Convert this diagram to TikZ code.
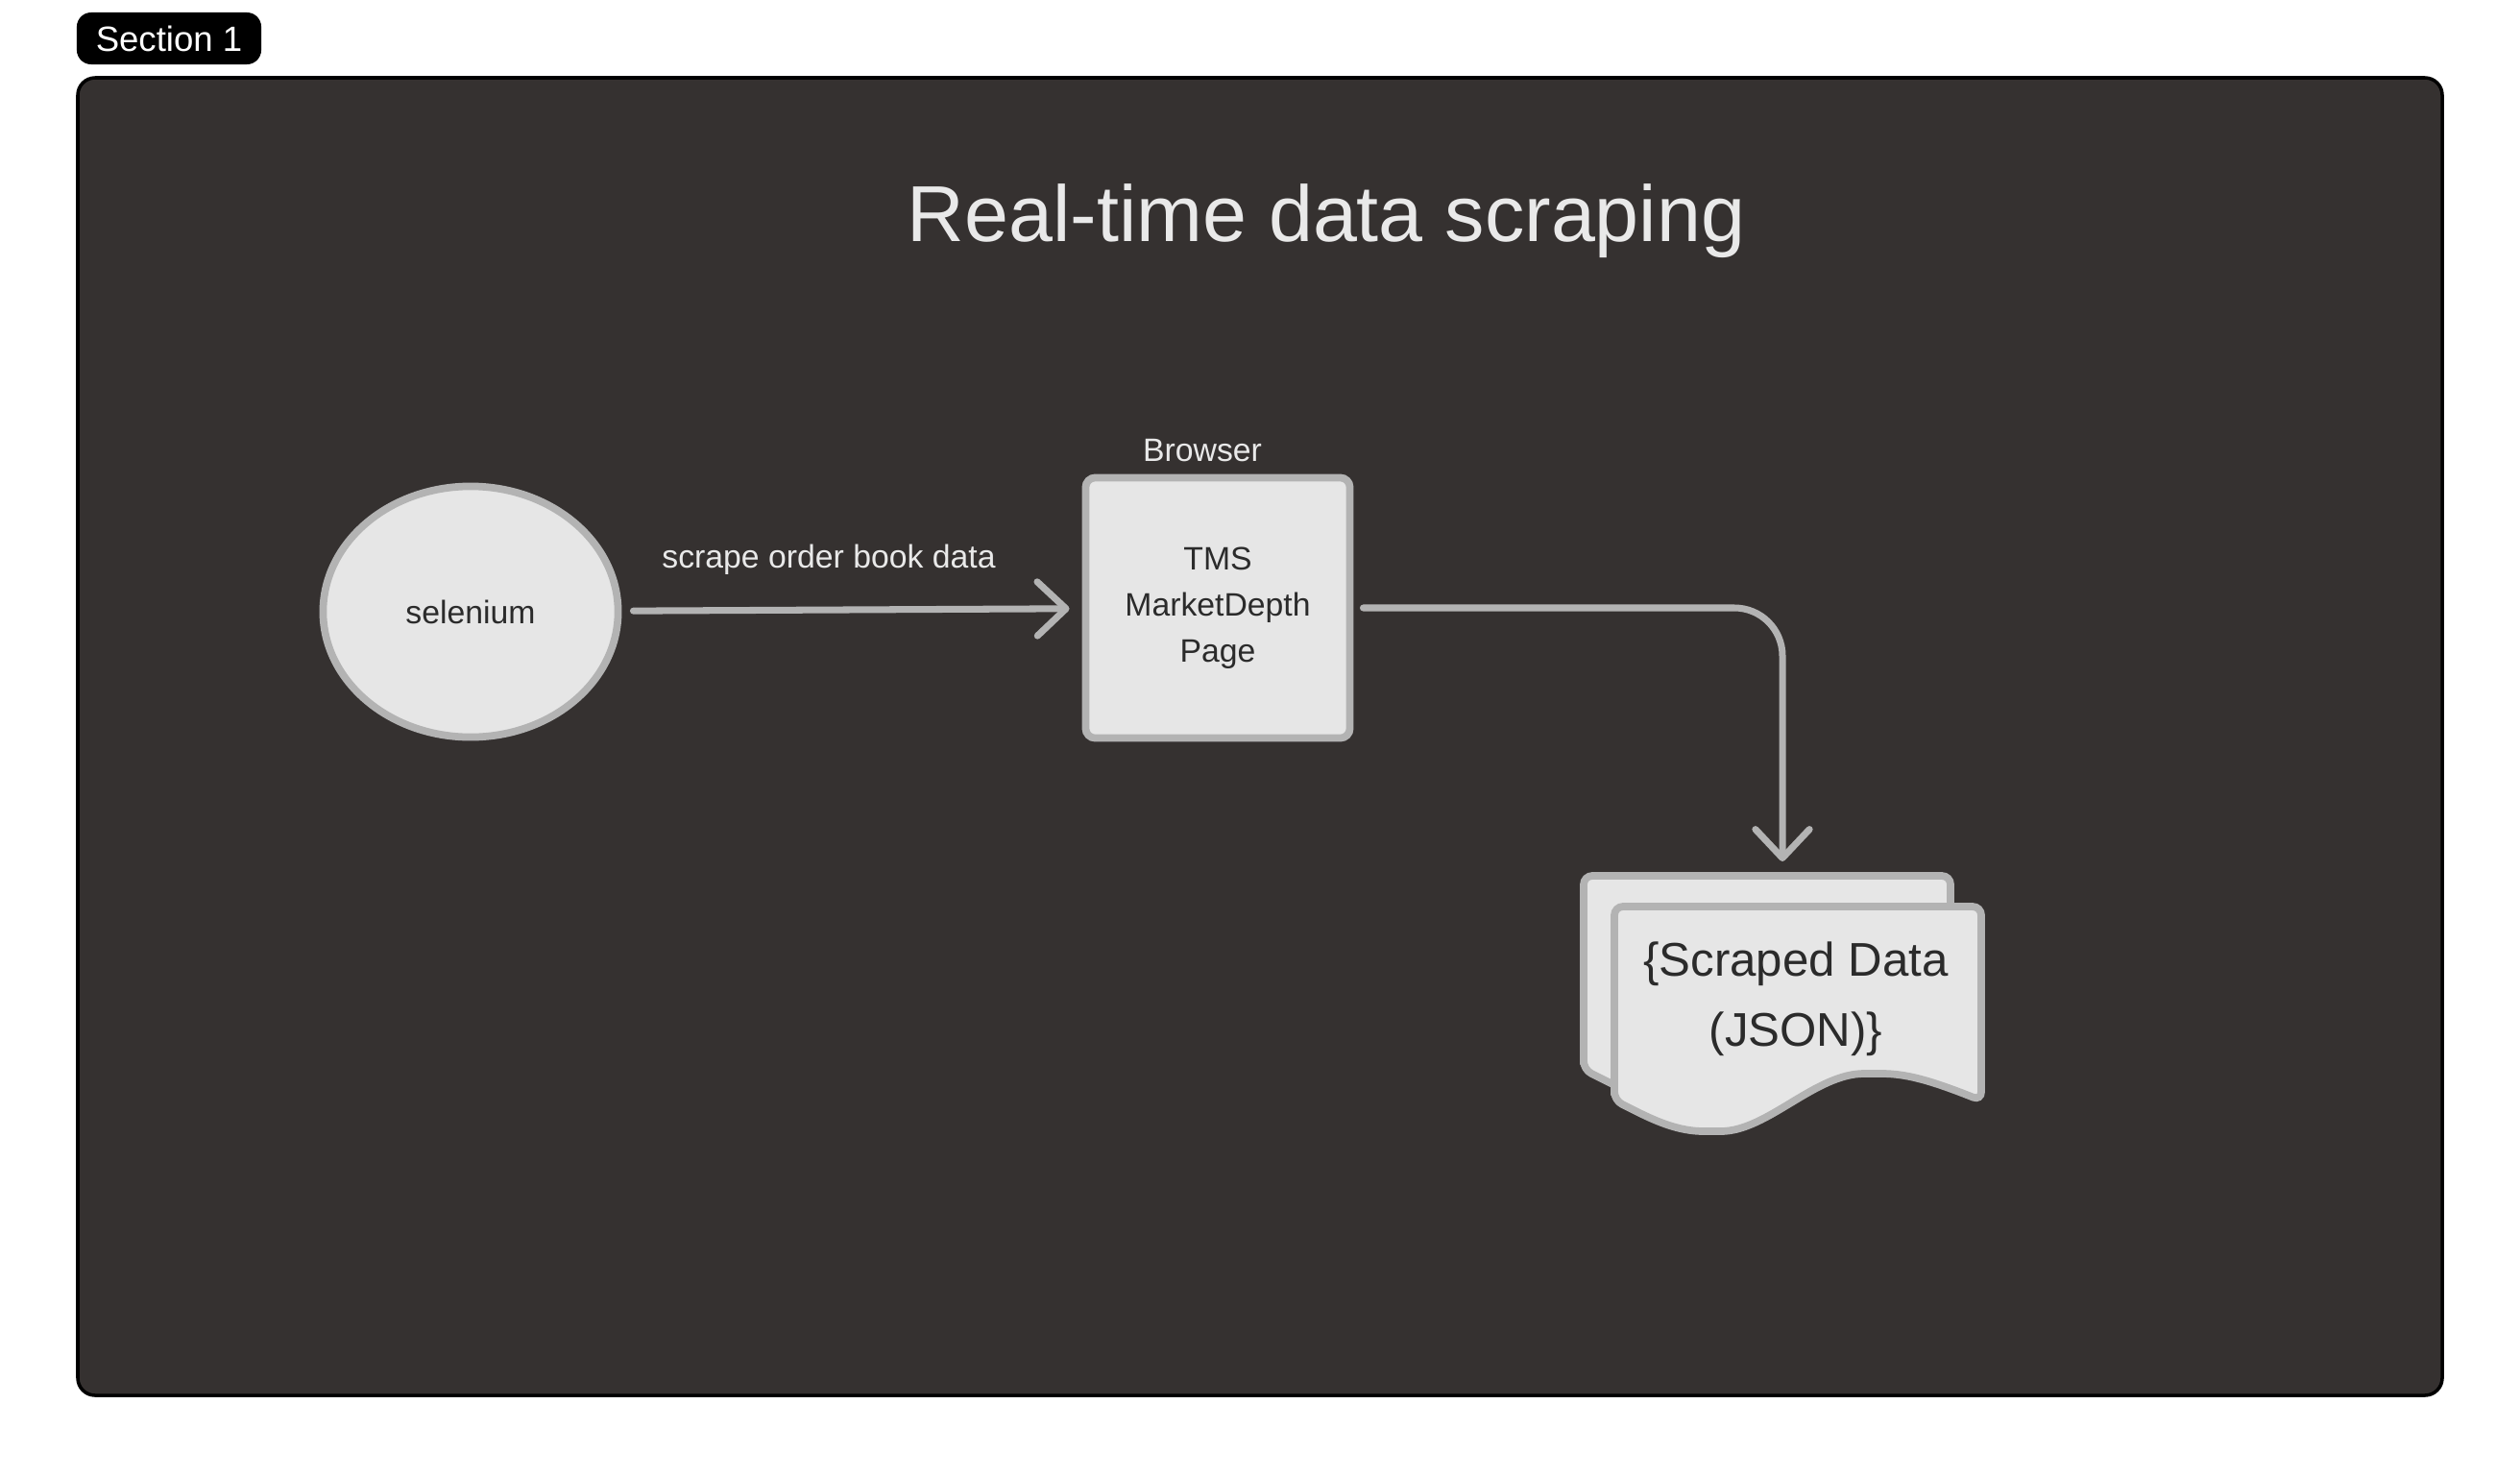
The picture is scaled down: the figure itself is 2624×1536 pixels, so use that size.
\documentclass[tikz,border=0pt]{standalone}
\usepackage{fontspec}
\setmainfont{Liberation Sans}
\usetikzlibrary{positioning,shapes.geometric,arrows.meta}

\definecolor{panelbg}{RGB}{53,49,48}
\definecolor{shapefill}{RGB}{230,230,230}
\definecolor{shapeline}{RGB}{179,179,179}
\definecolor{ink}{RGB}{43,43,43}
\definecolor{paper}{RGB}{233,233,233}

\begin{document}
\begin{tikzpicture}[x=0.01cm, y=-0.01cm,
    flow/.style={draw=shapeline, line width=2pt, line cap=round,
        -{Straight Barb[length=8.5pt, width=16pt, round]}},
    block/.style={draw=shapeline, fill=shapefill, line width=2.2pt, text=ink},
    small/.style={font=\fontsize{9.6}{13.7}\selectfont}]
    \useasboundingbox (0,0) rectangle (2624,1536);

    % Section tag
    \node[fill=black, rounded corners=0.15cm, minimum width=1.92cm, minimum height=0.54cm,
        text=white, font=\fontsize{10.4}{12}\selectfont] (tag) at (176,40) {Section 1};

    % Panel
    \draw[fill=panelbg, line width=1pt, rounded corners=0.18cm] (81,81) rectangle (2543,1453);
    \node[anchor=base, text=paper, font=\fontsize{23.5}{27}\selectfont] (title) at (1381,251) {Real-time data scraping};

    % Selenium
    \node[block, ellipse, inner sep=0pt, minimum width=3.07cm, minimum height=2.61cm, small]
        (sel) at (490,637) {selenium\hspace{0.14cm}};

    % Browser page
    \node[block, rounded corners=0.1cm, minimum width=2.75cm, minimum height=2.71cm,
        align=center, small] (page) at (1268,633) {TMS\\MarketDepth\\Page};
    \node[above=0.12cm of page, xshift=-0.16cm, inner sep=0pt, text=paper, small] (browser) {Browser};

    % Scraped data (two sheets)
    \foreach \dx/\dy in {-32/-32, 0/0} {
        \draw[block, rounded corners=0.09cm, shift={(\dx,\dy)}]
            (1681,1146) -- (1681,944) -- (2063,944) -- (2063,1146)
            .. controls (2010,1125) and (1985,1118) .. (1950,1118)
            .. controls (1890,1118) and (1840,1178) .. (1783,1178)
            .. controls (1740,1178) and (1710,1160) .. cycle;
    }
    \node[align=center, text=ink, font=\fontsize{14}{20.8}\selectfont] (data) at (1870,1040)
        {\{Scraped Data\\(JSON)\}};
    \coordinate (stack) at (1856,897);

    % Arrows
    \draw[flow, shorten <=0.12cm, shorten >=0.13cm] (sel) -- (page)
        node[pos=0.45, above=0.33cm, inner sep=0pt, text=paper, small] (scrape) {scrape order book data};
    \draw[flow, rounded corners=0.5cm, shorten <=0.1cm] (page.east) -| (stack);
\end{tikzpicture}
\end{document}
